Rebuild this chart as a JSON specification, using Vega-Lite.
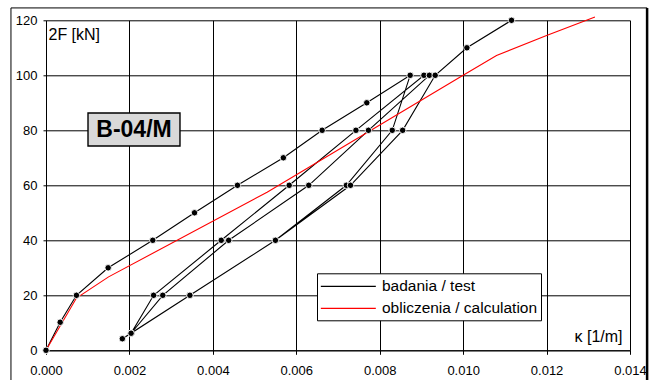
{
  "$schema": "https://vega.github.io/schema/vega-lite/v6.json",
  "width": 584,
  "height": 330,
  "autosize": {"type": "none"},
  "padding": {"left": 46, "top": 20.3, "right": 19, "bottom": 29.7},
  "background": "white",
  "config": {
    "font": "Liberation Sans",
    "view": {"stroke": null},
    "axis": {
      "grid": true,
      "gridColor": "#000",
      "gridWidth": 1,
      "gridOpacity": 1,
      "domainColor": "#000",
      "tickColor": "#000",
      "labelColor": "#000",
      "titleColor": "#000",
      "labelFontSize": 13,
      "labelFont": "Liberation Sans",
      "titleFont": "Liberation Sans",
      "titleFontSize": 16,
      "titleFontWeight": "normal",
      "labelFlush": false,
      "labelOverlap": false
    },
    "legend": {
      "labelFont": "Liberation Sans",
      "labelFontSize": 15.5,
      "labelColor": "#000"
    }
  },
  "datasets": {
    "curves": [
      {"series": "badania / test", "i": 1, "k": 0, "F": 0},
      {"series": "badania / test", "i": 2, "k": 0.00034, "F": 10.2},
      {"series": "badania / test", "i": 3, "k": 0.00073, "F": 20},
      {"series": "badania / test", "i": 4, "k": 0.00149, "F": 30},
      {"series": "badania / test", "i": 5, "k": 0.00256, "F": 40},
      {"series": "badania / test", "i": 6, "k": 0.00356, "F": 50},
      {"series": "badania / test", "i": 7, "k": 0.00459, "F": 60},
      {"series": "badania / test", "i": 8, "k": 0.00569, "F": 70},
      {"series": "badania / test", "i": 9, "k": 0.00662, "F": 80},
      {"series": "badania / test", "i": 10, "k": 0.00769, "F": 90},
      {"series": "badania / test", "i": 11, "k": 0.00873, "F": 100},
      {"series": "badania / test", "i": 12, "k": 0.0083, "F": 80},
      {"series": "badania / test", "i": 13, "k": 0.0072, "F": 60},
      {"series": "badania / test", "i": 14, "k": 0.0055, "F": 40},
      {"series": "badania / test", "i": 15, "k": 0.00345, "F": 20},
      {"series": "badania / test", "i": 16, "k": 0.00183, "F": 4.2},
      {"series": "badania / test", "i": 17, "k": 0.00204, "F": 6.2},
      {"series": "badania / test", "i": 18, "k": 0.00258, "F": 20},
      {"series": "badania / test", "i": 19, "k": 0.0042, "F": 40},
      {"series": "badania / test", "i": 20, "k": 0.00583, "F": 60},
      {"series": "badania / test", "i": 21, "k": 0.00743, "F": 80},
      {"series": "badania / test", "i": 22, "k": 0.00906, "F": 100},
      {"series": "badania / test", "i": 23, "k": 0.00919, "F": 100},
      {"series": "badania / test", "i": 24, "k": 0.00773, "F": 80},
      {"series": "badania / test", "i": 25, "k": 0.0063, "F": 60},
      {"series": "badania / test", "i": 26, "k": 0.00438, "F": 40},
      {"series": "badania / test", "i": 27, "k": 0.0028, "F": 20},
      {"series": "badania / test", "i": 28, "k": 0.00204, "F": 6.2},
      {"series": "badania / test", "i": 29, "k": 0.00345, "F": 20},
      {"series": "badania / test", "i": 30, "k": 0.0055, "F": 40},
      {"series": "badania / test", "i": 31, "k": 0.0073, "F": 60},
      {"series": "badania / test", "i": 32, "k": 0.00855, "F": 80},
      {"series": "badania / test", "i": 33, "k": 0.00933, "F": 100},
      {"series": "badania / test", "i": 34, "k": 0.01009, "F": 110},
      {"series": "badania / test", "i": 35, "k": 0.01116, "F": 120},
      {"series": "obliczenia / calculation", "i": 1, "k": 0, "F": 0},
      {"series": "obliczenia / calculation", "i": 2, "k": 0.00073, "F": 19},
      {"series": "obliczenia / calculation", "i": 3, "k": 0.0015, "F": 26.7},
      {"series": "obliczenia / calculation", "i": 4, "k": 0.0053, "F": 57.5},
      {"series": "obliczenia / calculation", "i": 5, "k": 0.01, "F": 100},
      {"series": "obliczenia / calculation", "i": 6, "k": 0.0108, "F": 107.2},
      {"series": "obliczenia / calculation", "i": 7, "k": 0.012, "F": 114.5},
      {"series": "obliczenia / calculation", "i": 8, "k": 0.01316, "F": 121.2}
    ],
    "label": [{"name": "B-04/M"}]
  },
  "layer": [
    {
      "data": {"name": "label"},
      "mark": {"type": "rect", "fill": null, "filled": false, "stroke": "#000", "strokeWidth": 1},
      "encoding": {
        "x": {"datum": -0.00084, "type": "quantitative", "scale": {"domain": [0, 0.014], "nice": false, "zero": false}},
        "x2": {"datum": 0.01441},
        "y": {"datum": 124.5, "type": "quantitative", "scale": {"domain": [0, 120], "nice": false, "zero": false}},
        "y2": {"datum": -12}
      }
    },
    {
      "data": {"name": "label"},
      "mark": {"type": "rule", "stroke": "#000", "strokeWidth": 2.5},
      "encoding": {
        "x": {"datum": 0.01441, "type": "quantitative"},
        "y": {"datum": 124.5, "type": "quantitative"},
        "y2": {"datum": -12}
      }
    },
    {
      "data": {"name": "curves"},
      "mark": {"type": "line", "strokeWidth": 1.1, "interpolate": "linear"},
      "encoding": {
        "x": {
          "field": "k", "type": "quantitative",
          "scale": {"domain": [0, 0.014], "nice": false, "zero": false},
          "axis": {
            "values": [0, 0.002, 0.004, 0.006, 0.008, 0.01, 0.012, 0.014],
            "format": ".3f",
            "tickSize": 4,
            "labelPadding": 10,
            "title": "κ [1/m]",
            "titleAngle": 0,
            "titleAlign": "right",
            "titleBaseline": "alphabetic",
            "titleX": 576,
            "titleY": -8.6
          }
        },
        "y": {
          "field": "F", "type": "quantitative",
          "scale": {"domain": [0, 120], "nice": false, "zero": false},
          "axis": {
            "values": [0, 20, 40, 60, 80, 100, 120],
            "tickSize": 3,
            "labelPadding": 6,
            "title": "2F [kN]",
            "titleAngle": 0,
            "titleAlign": "left",
            "titleBaseline": "alphabetic",
            "titleX": 2,
            "titleY": 18.7
          }
        },
        "order": {"field": "i", "type": "quantitative"},
        "color": {
          "field": "series", "type": "nominal",
          "scale": {"domain": ["badania / test", "obliczenia / calculation"], "range": ["#000000", "#ff0000"]},
          "legend": {
            "title": null,
            "orient": "none",
            "legendX": 271,
            "legendY": 253,
            "symbolType": "M-1,0H5",
            "symbolSize": 336,
            "symbolStrokeWidth": 1.2,
            "symbolFillColor": "transparent",
            "labelOffset": 42,
            "padding": 3,
            "rowPadding": 3,
            "strokeColor": "#000",
            "fillColor": "#ffffff"
          }
        }
      }
    },
    {
      "data": {"name": "curves"},
      "transform": [{"filter": "datum.series === 'badania / test'"}],
      "mark": {"type": "point", "shape": "circle", "filled": true, "fill": "#000", "stroke": "#fff", "strokeWidth": 0.9, "size": 42, "opacity": 1},
      "encoding": {
        "x": {"field": "k", "type": "quantitative"},
        "y": {"field": "F", "type": "quantitative"}
      }
    },
    {
      "data": {"name": "label"},
      "mark": {"type": "rect", "fill": "#d9d9d9", "stroke": "#000", "strokeWidth": 1.4},
      "encoding": {
        "x": {"datum": 0.001007, "type": "quantitative"},
        "x2": {"datum": 0.003212},
        "y": {"datum": 86.3, "type": "quantitative"},
        "y2": {"datum": 74.3}
      }
    },
    {
      "data": {"name": "label"},
      "mark": {"type": "text", "font": "Liberation Sans", "fontSize": 23, "fontWeight": "bold", "align": "center", "baseline": "middle", "color": "#000"},
      "encoding": {
        "x": {"datum": 0.00211, "type": "quantitative"},
        "y": {"datum": 80.2, "type": "quantitative"},
        "text": {"field": "name"}
      }
    }
  ]
}
